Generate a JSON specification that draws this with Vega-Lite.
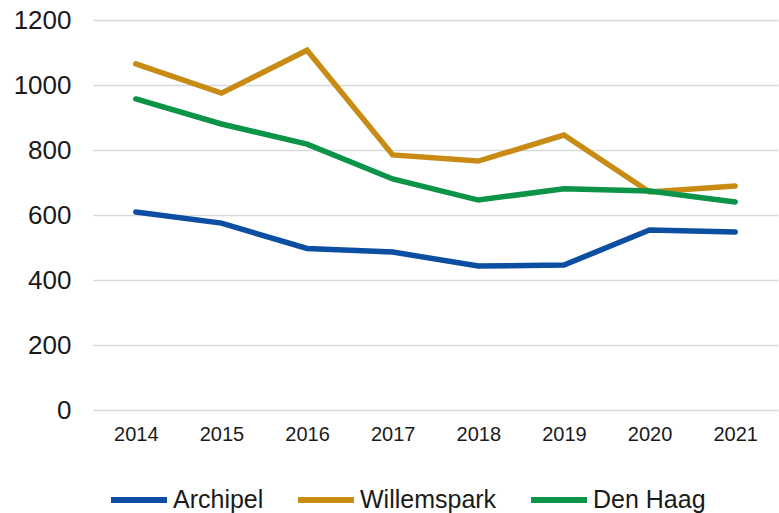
{
  "$schema": "https://vega.github.io/schema/vega-lite/v6.json",
  "width": 685,
  "height": 390,
  "autosize": {"type": "none"},
  "padding": {"left": 93, "top": 20, "right": 1, "bottom": 103},
  "background": "white",
  "config": {
    "view": {"stroke": null},
    "font": "Liberation Sans",
    "axis": {"labelFont": "Liberation Sans", "labelColor": "#1a1a1a", "domain": false, "ticks": false, "title": null}
  },
  "data": {
    "values": [
      {"year": "2014", "series": "Archipel", "value": 609},
      {"year": "2015", "series": "Archipel", "value": 575},
      {"year": "2016", "series": "Archipel", "value": 497},
      {"year": "2017", "series": "Archipel", "value": 486},
      {"year": "2018", "series": "Archipel", "value": 443},
      {"year": "2019", "series": "Archipel", "value": 446},
      {"year": "2020", "series": "Archipel", "value": 554},
      {"year": "2021", "series": "Archipel", "value": 548},
      {"year": "2014", "series": "Willemspark", "value": 1065},
      {"year": "2015", "series": "Willemspark", "value": 975},
      {"year": "2016", "series": "Willemspark", "value": 1107},
      {"year": "2017", "series": "Willemspark", "value": 785},
      {"year": "2018", "series": "Willemspark", "value": 766},
      {"year": "2019", "series": "Willemspark", "value": 846},
      {"year": "2020", "series": "Willemspark", "value": 671},
      {"year": "2021", "series": "Willemspark", "value": 689},
      {"year": "2014", "series": "Den Haag", "value": 957},
      {"year": "2015", "series": "Den Haag", "value": 880},
      {"year": "2016", "series": "Den Haag", "value": 818},
      {"year": "2017", "series": "Den Haag", "value": 711},
      {"year": "2018", "series": "Den Haag", "value": 646},
      {"year": "2019", "series": "Den Haag", "value": 681},
      {"year": "2020", "series": "Den Haag", "value": 674},
      {"year": "2021", "series": "Den Haag", "value": 640}
    ]
  },
  "mark": {"type": "line", "strokeWidth": 5.5, "strokeCap": "round", "strokeJoin": "miter"},
  "encoding": {
    "x": {
      "field": "year", "type": "ordinal",
      "scale": {"type": "point", "padding": 0.5},
      "axis": {"labelAngle": 0, "labelFontSize": 20, "labelPadding": 14, "grid": false}
    },
    "y": {
      "field": "value", "type": "quantitative",
      "scale": {"domain": [0, 1200]},
      "axis": {"values": [0, 200, 400, 600, 800, 1000, 1200], "format": "d", "labelFontSize": 26, "labelPadding": 22, "grid": true, "gridColor": "#d9d9d9", "gridWidth": 1.5}
    },
    "color": {
      "field": "series", "type": "nominal",
      "scale": {"domain": ["Archipel", "Willemspark", "Den Haag"], "range": ["#0B4EA2", "#C88C14", "#0B9347"]},
      "legend": {
        "title": null, "orient": "none", "legendX": 15, "legendY": 449,
        "direction": "horizontal", "columns": 3,
        "symbolType": "stroke", "symbolSize": 3136, "symbolStrokeWidth": 6,
        "labelFontSize": 25, "labelFont": "Liberation Sans", "labelColor": "#1a1a1a",
        "labelOffset": 3, "columnPadding": 22, "padding": 0, "labelLimit": 300
      }
    },
    "order": {"field": "series"}
  }
}
